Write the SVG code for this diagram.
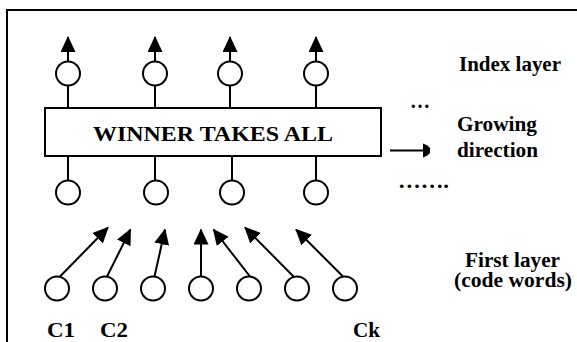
<svg xmlns="http://www.w3.org/2000/svg" width="577" height="342" viewBox="0 0 577 342">
<style>
.n{fill:#fff;stroke:#000;stroke-width:2}
.c{stroke:#000;stroke-width:2;fill:none}
.t{font-family:"Liberation Serif","Times New Roman",serif;font-weight:bold;fill:#000}
</style>
<defs>
<marker id="ah" markerUnits="userSpaceOnUse" markerWidth="16" markerHeight="16" viewBox="0 0 16 16" refX="15" refY="7.5" orient="auto">
<path d="M0,0 L16,7.5 L0,15 z" fill="#000"/>
</marker>
</defs>
<rect x="0" y="0" width="577" height="342" fill="#fff"/>
<rect x="7" y="10" width="620" height="400" fill="none" stroke="#000" stroke-width="2"/>
<g id="connectors">
<line class="c" x1="68" y1="61.5" x2="68" y2="37" marker-end="url(#ah)"/>
<line class="c" x1="155" y1="61.5" x2="155" y2="37" marker-end="url(#ah)"/>
<line class="c" x1="230" y1="61.5" x2="230" y2="37" marker-end="url(#ah)"/>
<line class="c" x1="316" y1="61.5" x2="316" y2="37" marker-end="url(#ah)"/>
<line class="c" x1="68" y1="85.5" x2="68" y2="108"/>
<line class="c" x1="155" y1="85.5" x2="155" y2="108"/>
<line class="c" x1="230" y1="85.5" x2="230" y2="108"/>
<line class="c" x1="316" y1="85.5" x2="316" y2="108"/>
<line class="c" x1="68" y1="156" x2="68" y2="180.5"/>
<line class="c" x1="155" y1="156" x2="155" y2="180.5"/>
<line class="c" x1="232" y1="156" x2="232" y2="180.5"/>
<line class="c" x1="316" y1="156" x2="316" y2="180.5"/>
<line class="c" x1="60" y1="276.5" x2="108" y2="227.5" marker-end="url(#ah)"/>
<line class="c" x1="107" y1="276.5" x2="130.5" y2="229.5" marker-end="url(#ah)"/>
<line class="c" x1="154.5" y1="276.5" x2="165" y2="229.5" marker-end="url(#ah)"/>
<line class="c" x1="201" y1="276.5" x2="201" y2="229.5" marker-end="url(#ah)"/>
<line class="c" x1="250" y1="276.5" x2="213.5" y2="229.5" marker-end="url(#ah)"/>
<line class="c" x1="293.5" y1="276.5" x2="245" y2="227.5" marker-end="url(#ah)"/>
<line class="c" x1="343" y1="276.5" x2="296" y2="229.5" marker-end="url(#ah)"/>
<line class="c" x1="390" y1="150.5" x2="424" y2="150.5"/>
<path d="M423,143.5 L427.5,145.5 L430,148 L430,153 L427.5,155.5 L423,157.5 z" fill="#000"/>
</g>
<g id="index-layer">
<circle class="n" cx="68" cy="73.5" r="12"/>
<circle class="n" cx="155" cy="73.5" r="12"/>
<circle class="n" cx="230" cy="73.5" r="12"/>
<circle class="n" cx="316" cy="73.5" r="12"/>
</g>
<g id="wta">
<rect class="n" x="45" y="108" width="336" height="48"/>
<text class="t" x="93" y="141" font-size="22" textLength="240" lengthAdjust="spacingAndGlyphs">WINNER TAKES ALL</text>
</g>
<g id="hidden-layer">
<circle class="n" cx="68" cy="192.5" r="12"/>
<circle class="n" cx="156" cy="192.5" r="12"/>
<circle class="n" cx="232" cy="192.5" r="12"/>
<circle class="n" cx="316" cy="192.5" r="12"/>
</g>
<g id="first-layer">
<circle class="n" cx="57" cy="288.5" r="12"/>
<circle class="n" cx="105" cy="288.5" r="12"/>
<circle class="n" cx="153" cy="288.5" r="12"/>
<circle class="n" cx="201" cy="288.5" r="12"/>
<circle class="n" cx="249" cy="288.5" r="12"/>
<circle class="n" cx="297" cy="288.5" r="12"/>
<circle class="n" cx="345" cy="288.5" r="12"/>
</g>
<g id="labels">
<text class="t" x="459" y="71" font-size="20" textLength="102" lengthAdjust="spacingAndGlyphs">Index layer</text>
<text class="t" x="410" y="108" font-size="20" textLength="20" lengthAdjust="spacingAndGlyphs">…</text>
<text class="t" x="457" y="131" font-size="20" textLength="80" lengthAdjust="spacingAndGlyphs">Growing</text>
<text class="t" x="457" y="157" font-size="20" textLength="81" lengthAdjust="spacingAndGlyphs">direction</text>
<text class="t" x="398" y="188" font-size="20" textLength="51" lengthAdjust="spacingAndGlyphs">…….</text>
<text class="t" x="465" y="267" font-size="20" textLength="95" lengthAdjust="spacingAndGlyphs">First layer</text>
<text class="t" x="454" y="287" font-size="20" textLength="118" lengthAdjust="spacingAndGlyphs">(code words)</text>
<text class="t" x="47" y="337" font-size="22" textLength="28" lengthAdjust="spacingAndGlyphs">C1</text>
<text class="t" x="100" y="337" font-size="22" textLength="28" lengthAdjust="spacingAndGlyphs">C2</text>
<text class="t" x="353" y="337" font-size="22" textLength="27" lengthAdjust="spacingAndGlyphs">Ck</text>
</g>
</svg>
